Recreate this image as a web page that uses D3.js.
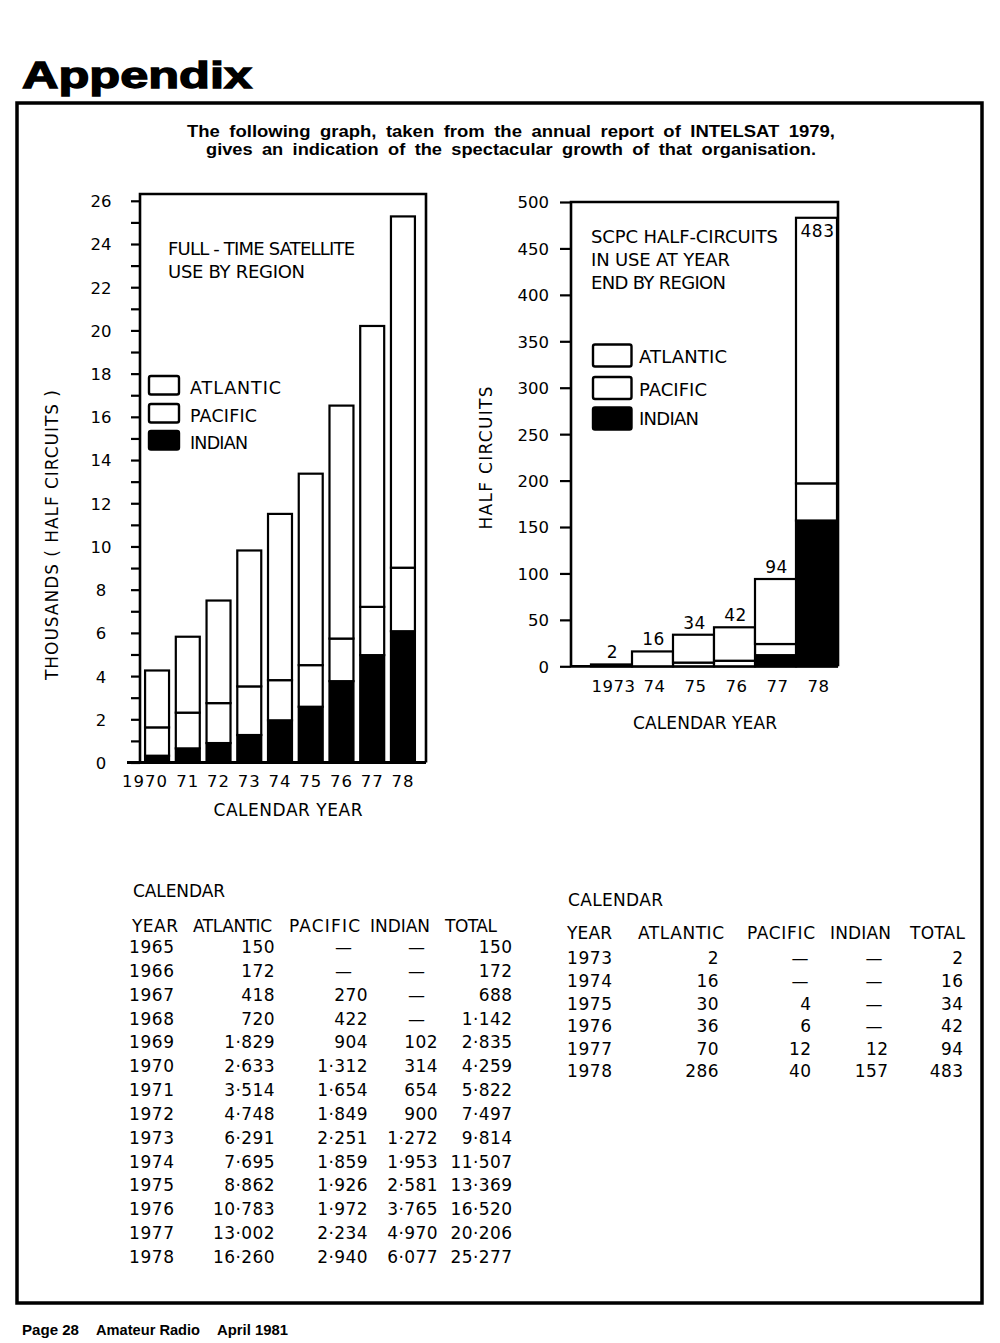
<!DOCTYPE html>
<html><head><meta charset="utf-8">
<script src="https://cdn.jsdelivr.net/npm/d3@7"></script>
<style>
body{margin:0;background:#fff;}
svg text{font-family:"DejaVu Sans",sans-serif;fill:#000;}
</style></head><body>
<svg id="c" width="1000" height="1343"></svg>
<script>
// ---------------- DATA ----------------
// Full-time table (INTELSAT half circuits)
const tableYears    = [1965,1966,1967,1968,1969,1970,1971,1972,1973,1974,1975,1976,1977,1978];
const tableAtlantic = [150,172,418,720,1829,2633,3514,4748,6291,7695,8862,10783,13002,16260];
const tablePacific  = [null,null,270,422,904,1312,1654,1849,2251,1859,1926,1972,2234,2940];
const tableIndian   = [null,null,null,null,102,314,654,900,1272,1953,2581,3765,4970,6077];
const tableTotal    = [150,172,688,1142,2835,4259,5822,7497,9814,11507,13369,16520,20206,25277];

// Full-time bar chart (1970-1978), thousands
const fullYearLabels = ["1970","71","72","73","74","75","76","77","78"];
const fullFirstYear = 1970;
const fullTickValues = d3.range(0, 27, 1);

// SCPC table / chart
const scpcYears    = [1973,1974,1975,1976,1977,1978];
const scpcLabels   = ["1973","74","75","76","77","78"];
const scpcAtlantic = [2,16,30,36,70,286];
const scpcPacific  = [null,null,4,6,12,40];
const scpcIndian   = [null,null,null,null,12,157];
const scpcTotal    = [2,16,34,42,94,483];
const scpcTickValues = d3.range(0, 501, 50);

const seriesKeys   = ["indian","pacific","atlantic"];
const seriesFill   = {indian:"#000", pacific:"#fff", atlantic:"#fff"};
const legendNames  = ["ATLANTIC","PACIFIC","INDIAN"];

// ---------------- HELPERS ----------------
const svg = d3.select("#c");
svg.append("rect").attr("width",1000).attr("height",1343).attr("fill","#fff");
const fmt = v => v == null ? "—" : d3.format(",")(v).replace(/,/g, "·");
function txt(g, x, y, s, size, opts = {}) {
  const t = g.append("text").attr("x", x).attr("y", y).attr("font-size", size).text(s);
  if (opts.anchor) t.attr("text-anchor", opts.anchor);
  if (opts.len) t.attr("textLength", opts.len).attr("lengthAdjust", opts.adj || "spacing");
  if (opts.family) t.style("font-family", opts.family);
  if (opts.weight) t.attr("font-weight", opts.weight);
  if (opts.ls != null) t.attr("letter-spacing", opts.ls);
  return t;
}

// ---------------- PAGE ----------------
const ff = "'Liberation Sans Narrow','Liberation Sans',Arial,sans-serif";
txt(svg, 22, 88, "Appendix", 36, {len:230, adj:"spacingAndGlyphs", family:"'Liberation Sans',Arial,sans-serif", weight:"bold"})
  .attr("stroke","#000").attr("stroke-width",1.3);
svg.append("rect").attr("x",17).attr("y",103).attr("width",965).attr("height",1200)
  .attr("fill","none").attr("stroke","#000").attr("stroke-width",3.5);
txt(svg, 187, 136.5, "The following graph, taken from the annual report of INTELSAT 1979,", 17,
  {len:648, adj:"spacingAndGlyphs", family:ff, weight:"bold"}).attr("word-spacing",4);
txt(svg, 206, 155, "gives an indication of the spectacular growth of that organisation.", 17,
  {len:610, adj:"spacingAndGlyphs", family:ff, weight:"bold"}).attr("word-spacing",4);
txt(svg, 22, 1334.5, "Page 28", 15, {len:57, adj:"spacingAndGlyphs", family:ff, weight:"bold"});
txt(svg, 96, 1334.5, "Amateur Radio", 15, {len:104, adj:"spacingAndGlyphs", family:ff, weight:"bold"});
txt(svg, 217, 1334.5, "April 1981", 15, {len:71, adj:"spacingAndGlyphs", family:ff, weight:"bold"});

// ---------------- LEFT CHART ----------------
{
  const g = svg.append("g");
  const y = d3.scaleLinear().domain([0, 26]).range([762.5, 200.8]);
  const x = d3.scaleBand().domain(fullYearLabels).range([142, 418]).paddingInner(0.22).paddingOuter(0.1);
  const start = tableYears.indexOf(fullFirstYear);
  const rows = fullYearLabels.map((lab, i) => ({
    label: lab,
    atlantic: tableAtlantic[start + i] / 1000,
    pacific: (tablePacific[start + i] || 0) / 1000,
    indian: (tableIndian[start + i] || 0) / 1000
  }));
  const stack = d3.stack().keys(seriesKeys)(rows);

  // frame
  g.append("path").attr("d", `M140,${y(0)} V194 H426 V${y(0)}`)
    .attr("fill","none").attr("stroke","#000").attr("stroke-width",2.6);
  g.append("line").attr("x1",127).attr("x2",426).attr("y1",y(0)).attr("y2",y(0))
    .attr("stroke","#000").attr("stroke-width",2.8);

  // axis
  const ax = g.append("g").attr("transform","translate(140,0)")
    .call(d3.axisLeft(y).tickValues(fullTickValues).tickSize(9)
      .tickFormat(d => d % 2 ? "" : d3.format("d")(d)));
  ax.select(".domain").remove();
  ax.selectAll(".tick line").attr("stroke","#000").attr("stroke-width",2.2);
  ax.selectAll(".tick text").attr("x",-39).attr("text-anchor","middle")
    .attr("font-size",16.5).attr("font-family","DejaVu Sans").attr("fill","#000").attr("dy","0.36em");

  // bars
  stack.forEach(layer => {
    g.append("g").selectAll("rect").data(layer).join("rect")
      .attr("x", d => x(d.data.label))
      .attr("width", x.bandwidth())
      .attr("y", d => y(d[1]))
      .attr("height", d => y(d[0]) - y(d[1]))
      .attr("fill", seriesFill[layer.key])
      .attr("stroke","#000").attr("stroke-width",2.2);
  });

  // x labels
  const xa = g.append("g").attr("transform",`translate(0,${y(0)})`)
    .call(d3.axisBottom(x).tickSize(0).tickPadding(0));
  xa.select(".domain").remove();
  xa.selectAll(".tick text").attr("y",24).attr("dy",0).attr("font-size",16.5)
    .attr("font-family","DejaVu Sans").attr("fill","#000").attr("letter-spacing",1);
  xa.selectAll(".tick text").filter((d,i) => i === 0)
    .attr("text-anchor","end").attr("x", x.bandwidth()/2 - 1);

  txt(g, 288, 816, "CALENDAR YEAR", 17, {anchor:"middle", len:149});
  txt(g, 0, 0, "THOUSANDS ( HALF CIRCUITS )", 17, {anchor:"middle", len:290})
    .attr("transform","translate(58,535) rotate(-90)");

  // title
  txt(g, 168, 255, "FULL - TIME SATELLITE", 18, {len:187});
  txt(g, 168, 278, "USE BY REGION", 18, {len:137});

  // legend
  const ly = [376, 404, 431], lby = [394, 421.5, 449], lw = [91, 67, 58];
  legendNames.forEach((n, i) => {
    const key = n.toLowerCase();
    g.append("rect").attr("x",149).attr("y",ly[i]).attr("width",30).attr("height",18.5).attr("rx",2)
      .attr("fill", seriesFill[key]).attr("stroke","#000").attr("stroke-width",2.4);
    txt(g, 190, lby[i], n, 17.5, {len: lw[i]});
  });
}

// ---------------- RIGHT CHART ----------------
{
  const g = svg.append("g");
  const y = d3.scaleLinear().domain([0, 500]).range([666.3, 202]);
  const x = d3.scaleBand().domain(scpcLabels).range([591, 837]).padding(0);
  const rows = scpcLabels.map((lab, i) => ({
    label: lab,
    atlantic: scpcAtlantic[i] || 0,
    pacific: scpcPacific[i] || 0,
    indian: scpcIndian[i] || 0,
    total: scpcTotal[i]
  }));
  const stack = d3.stack().keys(seriesKeys)(rows);

  g.append("path").attr("d", `M571,${y(0)} V202 H838 V${y(0)}`)
    .attr("fill","none").attr("stroke","#000").attr("stroke-width",2.6);
  g.append("line").attr("x1",571).attr("x2",838).attr("y1",y(0)).attr("y2",y(0))
    .attr("stroke","#000").attr("stroke-width",2.8);

  const ax = g.append("g").attr("transform","translate(571,0)")
    .call(d3.axisLeft(y).tickValues(scpcTickValues).tickSize(11).tickFormat(d3.format("d")));
  ax.select(".domain").remove();
  ax.selectAll(".tick line").attr("stroke","#000").attr("stroke-width",2.2);
  ax.selectAll(".tick text").attr("x",-22).attr("text-anchor","end")
    .attr("font-size",16.5).attr("font-family","DejaVu Sans").attr("fill","#000").attr("dy","0.36em");

  stack.forEach(layer => {
    g.append("g").selectAll("rect").data(layer.filter(d => d[1] > d[0])).join("rect")
      .attr("x", d => x(d.data.label))
      .attr("width", x.bandwidth())
      .attr("y", d => y(d[1]))
      .attr("height", d => y(d[0]) - y(d[1]))
      .attr("fill", seriesFill[layer.key])
      .attr("stroke","#000").attr("stroke-width",2.2);
  });

  // value labels
  g.append("g").selectAll("text").data(rows).join("text")
    .attr("x", d => x(d.label) + x.bandwidth()/2 + 1)
    .attr("y", (d, i) => i === rows.length - 1 ? y(d.total) + 19 : y(d.total) - 6)
    .attr("text-anchor","middle").attr("font-size",17).attr("letter-spacing",0.5)
    .text(d => d.total);

  const xa = g.append("g").attr("transform",`translate(2,${y(0)})`)
    .call(d3.axisBottom(x).tickSize(0).tickPadding(0));
  xa.select(".domain").remove();
  xa.selectAll(".tick text").attr("y",25.5).attr("dy",0).attr("font-size",16.5)
    .attr("font-family","DejaVu Sans").attr("fill","#000").attr("letter-spacing",0.5);

  txt(g, 705, 729, "CALENDAR YEAR", 17, {anchor:"middle", len:144});
  txt(g, 0, 0, "HALF CIRCUITS", 17, {anchor:"middle", len:143})
    .attr("transform","translate(492,458) rotate(-90)");

  txt(g, 591, 243, "SCPC HALF-CIRCUITS", 18, {len:187});
  txt(g, 591, 266, "IN USE AT YEAR", 18, {len:139});
  txt(g, 591, 288.5, "END BY REGION", 18, {len:135});

  const ly = [344.5, 377, 407.5], lby = [363.3, 395.7, 425], lw = [88, 68, 60];
  legendNames.forEach((n, i) => {
    const key = n.toLowerCase();
    g.append("rect").attr("x",593).attr("y",ly[i]).attr("width",38.5).attr("height",22).attr("rx",2)
      .attr("fill", seriesFill[key]).attr("stroke","#000").attr("stroke-width",2.4);
    txt(g, 639, lby[i], n, 18, {len: lw[i]});
  });
}

// ---------------- TABLES ----------------
function drawTable(cfg) {
  const g = svg.append("g");
  txt(g, cfg.calX, cfg.calY, "CALENDAR", 17, {len: cfg.calW});
  cfg.headers.forEach(h => txt(g, h.x, cfg.headY, h.t, 17, {len: h.w}));
  const ry = d3.scalePoint().domain(cfg.years).range(cfg.rowRange);
  cfg.years.forEach((yr, i) => {
    txt(g, cfg.yearX, ry(yr), String(yr), 17, {ls: 0.6});
    cfg.cols.forEach(c => {
      const v = c.values[i];
      if (v == null) txt(g, c.dash, ry(yr), "—", 17, {anchor:"middle"});
      else txt(g, c.end, ry(yr), fmt(v), 17, {anchor:"end", ls: 0.4});
    });
  });
}
drawTable({
  calX:133, calY:896.5, calW:92, headY:931.5,
  headers:[{t:"YEAR",x:132,w:46},{t:"ATLANTIC",x:193,w:79},{t:"PACIFIC",x:289,w:71},{t:"INDIAN",x:370,w:60},{t:"TOTAL",x:445,w:52}],
  years: tableYears, rowRange:[953, 1263], yearX:129,
  cols:[{values:tableAtlantic,end:275,dash:260},{values:tablePacific,end:368,dash:343.5},
        {values:tableIndian,end:438,dash:416.5},{values:tableTotal,end:512.5,dash:490}]
});
drawTable({
  calX:568, calY:906, calW:95, headY:939.3,
  headers:[{t:"YEAR",x:567,w:45},{t:"ATLANTIC",x:638,w:86},{t:"PACIFIC",x:747,w:68},{t:"INDIAN",x:830,w:61},{t:"TOTAL",x:910,w:55}],
  years: scpcYears, rowRange:[964.3, 1077.3], yearX:567,
  cols:[{values:scpcAtlantic,end:719,dash:705},{values:scpcPacific,end:811.5,dash:800},
        {values:scpcIndian,end:888.5,dash:874},{values:scpcTotal,end:963.5,dash:950}]
});
</script>
</body></html>
